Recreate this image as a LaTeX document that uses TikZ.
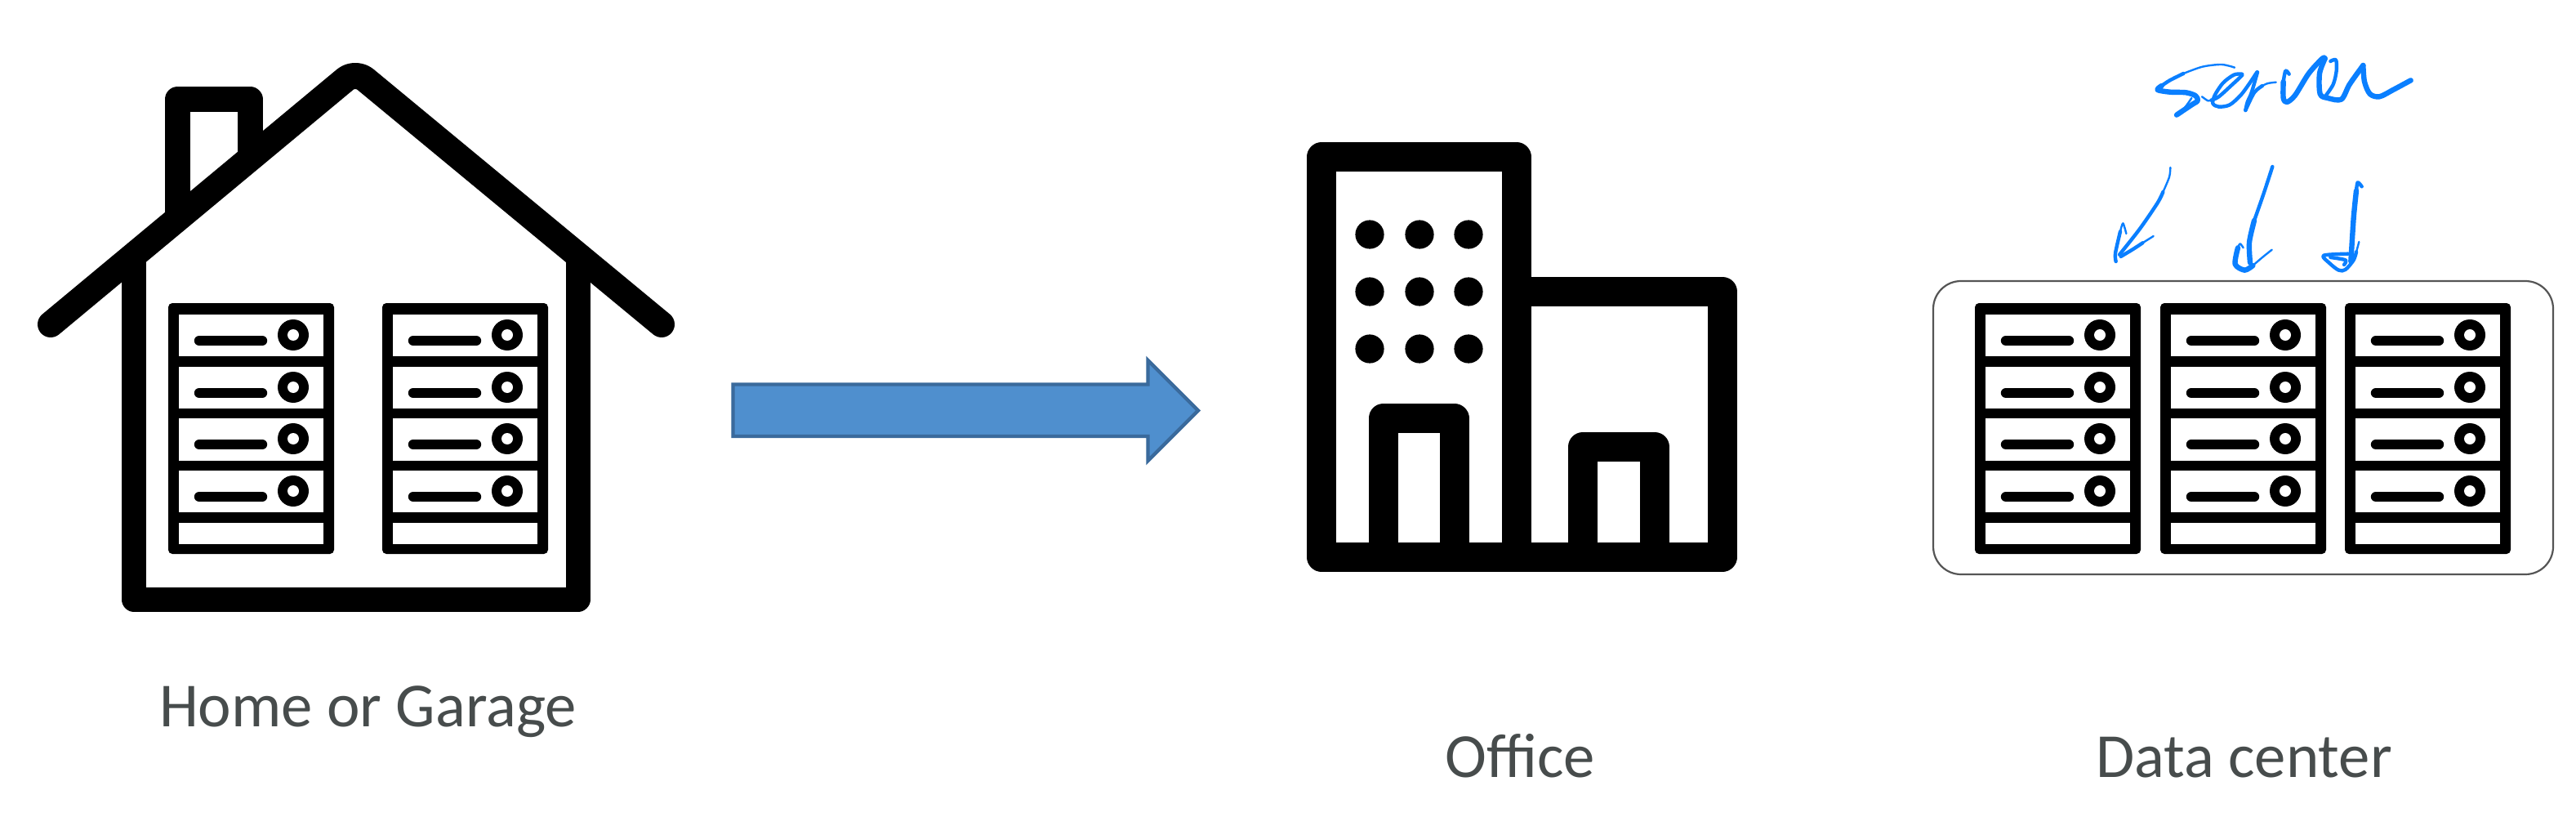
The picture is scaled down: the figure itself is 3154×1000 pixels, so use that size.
\documentclass[tikz,border=0pt]{standalone}
\usepackage{fontspec}
\setmainfont{Carlito}
\definecolor{labelgray}{HTML}{474C4C}
\definecolor{arrowfill}{HTML}{4F8FCE}
\definecolor{arrowedge}{HTML}{3A6A9C}
\definecolor{inkblue}{HTML}{0A7FFF}
\definecolor{boxedge}{HTML}{555555}
\tikzset{
  caption/.style={inner sep=0pt,anchor=base,text=labelgray,font=\fontsize{38.4}{46}\selectfont},
  icon/.style={draw=black,line join=round,line cap=butt},
  inkthin/.style={draw=inkblue,line width=1.2pt,line cap=round,line join=round},
  inkmid/.style={draw=inkblue,line width=2.2pt,line cap=round,line join=round},
  inkfat/.style={draw=inkblue,line width=3.2pt,line cap=round,line join=round},
  handscale/.style={x=0.16667pt,y=-0.16667pt},
  serverrack/.pic={
    \fill[black,rounded corners=2.5pt] (0,0) rectangle (203,307);
    \foreach \t/\h in {14/51,78/51,141/52,205/51}{
      \fill[white] (13,\t) rectangle (190,\t+\h);
      \draw[black,line width=6.2pt,line cap=round] (38,\t+32) -- (115,\t+32);
      \fill[black] (153,\t+25) circle[radius=9.5pt];
      \fill[white] (153,\t+25) circle[radius=3.5pt];
    }
    \fill[white] (13,269) rectangle (190,295);
  }
}
\begin{document}
\begin{tikzpicture}[x=0.5pt,y=-0.5pt]
\useasboundingbox[fill=white] (0,0) rectangle (3154,1000);

% house
\draw[icon,line width=15.5pt] (217.5,268) -- (217.5,121.5) -- (306,121.5) -- (306,190);
\draw[icon,line width=15pt] (164,312) -- (164,733.5) -- (707.5,733.5) -- (707.5,312);
\draw[icon,line width=16pt,line cap=round,rounded corners=8pt] (62,397) -- (435,87) -- (810,397);
\pic at (206,371) {serverrack};
\pic at (468,371) {serverrack};
\node[caption] (homelabel) at (450.5,889) {Home or Garage};

% transition arrow
\draw[fill=arrowfill,draw=arrowedge,line width=2.2pt,miter limit=10]
  (897.5,470.5) -- (1405.5,470.5) -- (1405.5,441) -- (1467,502.5) -- (1405.5,564) -- (1405.5,534) -- (897.5,534) -- cycle;

% office
\draw[icon,line width=18pt] (1618,681.5) -- (1618,192.5) -- (1857,192.5) -- (1857,681.5) -- cycle;
\draw[icon,line width=18pt] (1857,357) -- (2109,357) -- (2109,681.5) -- (1857,681.5);
\draw[icon,line width=18pt] (1693.5,681.5) -- (1693.5,512) -- (1780.5,512) -- (1780.5,681.5);
\draw[icon,line width=18pt] (1938,681.5) -- (1938,547) -- (2026,547) -- (2026,681.5);
\foreach \cx in {1677,1738,1798}{
  \foreach \cy in {287,357,427}{
    \fill[black] (\cx,\cy) circle[radius=8.8pt];
  }
}
\node[caption] (officelabel) at (1861,951) {Office};

% data centre
\draw[boxedge,line width=1.1pt,rounded corners=17pt] (2367,344) rectangle (3126,703);
\pic at (2418,371) {serverrack};
\pic at (2645,371) {serverrack};
\pic at (2871,371) {serverrack};
\node[caption] (dclabel) at (2747.5,951) {Data center};

% handwritten word
\begin{scope}[shift={(2620,60)},handscale]
  \draw[inkthin] plot[smooth] coordinates {(348,68) (300,57) (230,65) (160,90)};
  \draw[inkmid] plot[smooth] coordinates {(160,90) (110,115) (80,135)};
  \draw[inkfat] plot[smooth] coordinates {(80,135) (65,150) (110,158) (170,160) (205,172) (212,190) (190,205) (135,242)};
  \draw[inkthin] plot[smooth] coordinates {(190,180) (165,215) (140,238)};
  \draw[inkthin] plot[smooth] coordinates {(228,175) (250,190) (262,188)};
  \draw[inkmid] plot[smooth] coordinates {(262,188) (290,175) (340,130) (372,100) (375,92) (345,95) (305,125) (275,170) (268,200) (290,212) (330,205) (370,170) (400,130) (430,85)};
  \draw[inkmid] plot[smooth] coordinates {(432,85) (410,160) (395,195) (388,225)};
  \draw[inkmid] plot[smooth] coordinates {(388,225) (420,160) (450,135)};
  \draw[inkthin] plot[smooth] coordinates {(450,135) (470,126) (500,122)};
  \draw[inkmid] plot[smooth] coordinates {(548,92) (535,80) (527,120)};
  \draw[inkfat] plot[smooth] coordinates {(527,120) (527,180) (540,195) (570,170) (620,90) (670,35) (680,35)};
  \draw[inkfat] plot[smooth] coordinates {(680,35) (660,90) (662,165) (690,180) (740,185) (770,130) (820,60)};
  \draw[inkmid] plot[smooth] coordinates {(700,45) (720,40) (722,80) (710,130) (680,175)};
  \draw[inkfat] plot[smooth] coordinates {(820,60) (825,120) (845,165) (880,175) (930,150) (995,115)};
\end{scope}

% handwritten arrows
\begin{scope}[shift={(2570,190)},handscale]
  \draw[inkthin] plot[smooth] coordinates {(262,45) (258,80) (235,135)};
  \draw[inkmid] plot[smooth] coordinates {(235,135) (215,175) (150,270) (75,365)};
  \draw[inkthin] plot[smooth] coordinates {(100,288) (88,250) (78,280)};
  \draw[inkmid] plot[smooth] coordinates {(78,280) (60,360) (62,390)};
  \draw[inkthin] plot[smooth] coordinates {(200,297) (160,322)};
  \draw[inkmid] plot[smooth] coordinates {(160,322) (125,345) (80,372)};
  \draw[inkmid] plot[smooth] coordinates {(637,42) (605,140) (570,240)};
  \draw[inkfat] plot[smooth] coordinates {(570,240) (552,320) (555,395)};
  \draw[inkthin] plot[smooth] coordinates {(530,340) (518,325) (510,340)};
  \draw[inkfat] plot[smooth] coordinates {(510,340) (500,400) (535,422) (565,405)};
  \draw[inkthin] plot[smooth] coordinates {(565,405) (600,375) (635,347)};
  \draw[inkmid] plot[smooth] coordinates {(965,115) (950,100) (945,130)};
  \draw[inkfat] plot[smooth] coordinates {(945,130) (935,230) (925,390)};
  \draw[inkthin] plot[smooth] coordinates {(955,318) (945,355)};
  \draw[inkmid] plot[smooth] coordinates {(945,355) (935,385) (905,420) (880,422) (845,395) (825,368) (915,362)};
  \draw[inkmid] plot[smooth] coordinates {(850,375) (905,385) (900,402)};
\end{scope}
\end{tikzpicture}
\end{document}
